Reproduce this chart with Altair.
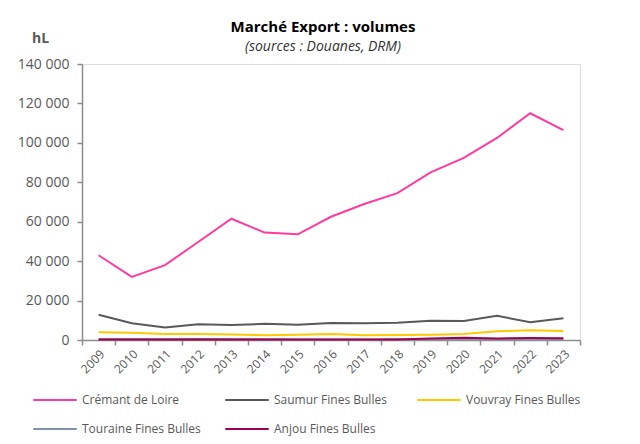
import altair as alt
import pandas as pd

years = [str(y) for y in range(2009, 2024)]
series_names = ["Crémant de Loire", "Saumur Fines Bulles", "Vouvray Fines Bulles",
                "Touraine Fines Bulles", "Anjou Fines Bulles"]
cremant = [43000, 32000, 38000, 49700, 61500, 54500, 53600, 62500, 69000, 74500,
           85000, 92400, 102500, 115000, 106500]
saumur = [12800, 8500, 6400, 8000, 7600, 8200, 7700, 8600, 8500, 8800,
          9800, 9700, 12300, 9000, 11000]
vouvray = [3900, 3700, 3100, 3100, 2800, 2400, 2700, 3000, 2400, 2500,
           2700, 3000, 4400, 4900, 4600]
touraine = [400, 350, 400, 450, 400, 350, 300, 300, 300, 350,
            400, 400, 350, 400, 400]
anjou = [200, 200, 300, 300, 300, 200, 200, 200, 200, 200,
         700, 1200, 800, 1000, 900]
colors = ["#FF3C9E", "#595959", "#FFC800", "#7F91AD", "#A0004F"]
y_ticks = [0, 20000, 40000, 60000, 80000, 100000, 120000, 140000]

rows = []
for name, vals in zip(series_names, [cremant, saumur, vouvray, touraine, anjou]):
    for yr, v in zip(years, vals):
        rows.append({"Année": yr, "Série": name, "Volume": v})
df = pd.DataFrame(rows)

font = "Open Sans"
axis_color = "#8C8C8C"
label_color = "#595959"

chart = alt.Chart(df).mark_line(strokeWidth=2).encode(
    x=alt.X("Année:O", sort=years,
            scale=alt.Scale(type="band", paddingInner=0, paddingOuter=0),
            bandPosition=0.5,
            axis=alt.Axis(title=None, labelAngle=-45, tickBand="extent",
                          labelFont=font, labelFontSize=12, labelColor=label_color,
                          domainColor=axis_color, domainWidth=1.5,
                          tickColor=axis_color, tickWidth=1.5, tickSize=5,
                          labelPadding=3, zindex=0)),
    y=alt.Y("Volume:Q", scale=alt.Scale(domain=[0, 140000], nice=False),
            axis=alt.Axis(values=y_ticks, grid=False,
                          labelExpr="replace(format(datum.value, ','), ',', ' ')",
                          labelFont=font, labelFontSize=14, labelColor=label_color,
                          labelPadding=8,
                          domainColor=axis_color, domainWidth=1.5,
                          tickColor=axis_color, tickWidth=1.5, tickSize=5,
                          title="hL", titleAngle=0, titleX=-42, titleY=-26,
                          titleAlign="center", titleBaseline="middle",
                          titleFont=font, titleFontSize=14, titleFontWeight="bold",
                          titleColor=label_color, zindex=0)),
    color=alt.Color("Série:N", sort=series_names,
                    scale=alt.Scale(domain=series_names, range=colors),
                    legend=alt.Legend(title=None, orient="none", legendX=-43, legendY=320,
                                      direction="horizontal", columns=3, gridAlign="all",
                                      columnPadding=20, rowPadding=7, padding=0,
                                      symbolType="M-1.45,0H1.45", symbolSize=900,
                                      symbolStrokeWidth=2, labelOffset=11,
                                      labelFont=font, labelFontSize=12,
                                      labelColor=label_color)),
).properties(
    width=498, height=276, autosize="none",
    padding={"left": 74, "top": 56, "right": 52, "bottom": 96},
    title=alt.Title("Marché Export : volumes", subtitle="(sources : Douanes, DRM)",
                    font=font, fontSize=15, fontWeight="bold", color="black",
                    subtitleFont=font, subtitleFontSize=14, subtitleFontStyle="italic",
                    subtitleColor="#333333", anchor="middle", dx=-8, offset=-23,
                    subtitlePadding=5),
).configure_view(stroke=None).configure(background="white")

chart.save("out.html", embed_options={"renderer": "svg", "actions": False})
